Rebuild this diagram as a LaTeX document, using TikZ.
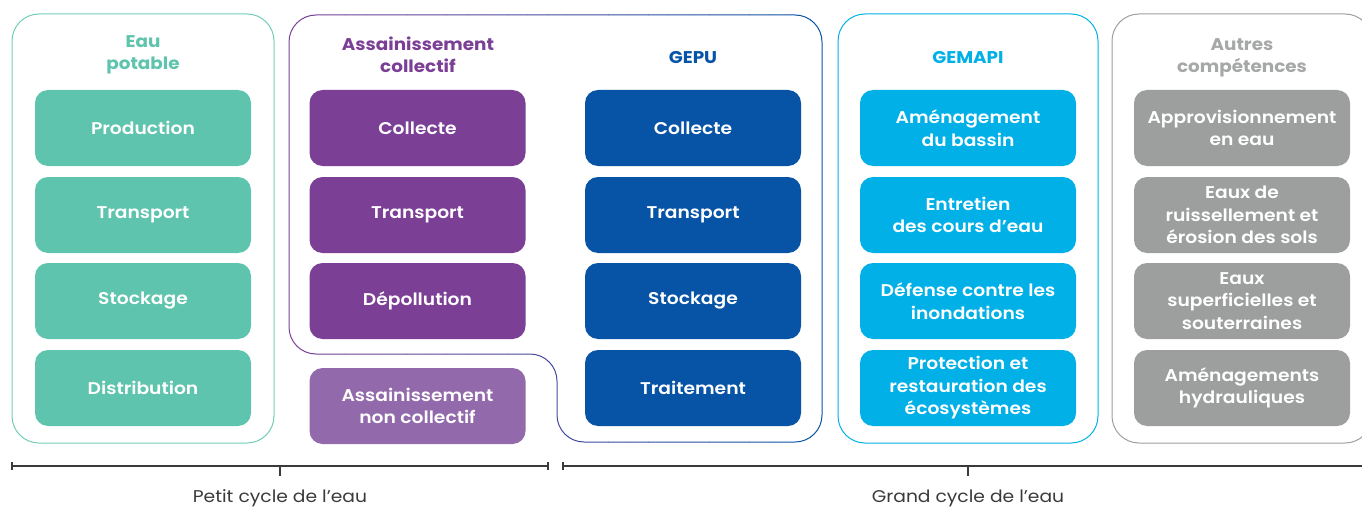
\documentclass[tikz,border=0pt]{standalone}
\usepackage{fontspec}
\setmainfont{Poppins}[FakeStretch=1.1, BoldFont={Poppins SemiBold}, BoldFeatures={FakeStretch=1.1}]
\newfontfamily\titlefont{Poppins}[FakeStretch=1.08]
\definecolor{cgreen}{HTML}{5EC4AD}
\definecolor{cgreenline}{HTML}{72CCB8}
\definecolor{cpurple}{HTML}{7B3F96}
\definecolor{clpurple}{HTML}{926AAC}
\definecolor{cblue}{HTML}{0753A5}
\definecolor{ccyan}{HTML}{00B0E6}
\definecolor{cgray}{HTML}{9D9E9E}
\definecolor{cgrayt}{HTML}{A6A7A7}
\definecolor{cdark}{HTML}{3A3A3A}
\tikzset{
  box/.style={minimum width=216pt, minimum height=76pt, rounded corners=13pt, text=white, align=center,
    font=\fontsize{17}{22.5}\selectfont\bfseries, inner sep=0pt},
  frame/.style={draw, line width=1pt, rounded corners=27pt, minimum width=262pt, minimum height=429pt, inner sep=0pt},
  title/.style={align=center, font=\fontsize{17}{22}\selectfont\titlefont\bfseries},
  scaleline/.style={draw=cdark, line width=1.1pt},
  caption/.style={text=cdark, font=\fontsize{17}{20}\selectfont}
}
\begin{document}
\begin{tikzpicture}[x=1pt, y=-1pt]
\useasboundingbox (0,0) rectangle (1362,508);
% frames
\node[frame, draw=cgreenline] (fep) at (143,228.5) {};
\node[frame, draw=ccyan, minimum width=260pt] (fgm) at (968,228.5) {};
\node[frame, draw=cgray, minimum width=260pt] (fau) at (1242,228.5) {};
% combined frame with purple-to-blue gradient stroke
\foreach \i in {0,...,26}{
  \pgfmathtruncatemacro{\p}{100-\i*100/26}
  \begin{scope}
    \clip (285+\i*20.2,5) rectangle (285+\i*20.2+20.4,450);
    \draw[cpurple!\p!cblue, line width=1pt, rounded corners=27pt]
      (420,15) -- (822,15) -- (822,442) -- (557,442) -- (557,354) -- (289,354) -- (289,15) -- cycle;
  \end{scope}
}
% titles
\node[title, text=cgreen] (tep) at (143,55) {Eau\\potable};
\node[title, text=cpurple] (tac) at (418,55) {Assainissement\\collectif};
\node[title, text=cblue] (tgepu) at (693,58) {GEPU};
\node[title, text=ccyan] (tgm) at (968,58) {GEMAPI};
\node[title, text=cgrayt] (tau) at (1242,58) {Autres\\compétences};
% eau potable
\node[box, fill=cgreen] (ep1) at (143,128) {Production};
\node[box, fill=cgreen] (ep2) at (143,215) {Transport};
\node[box, fill=cgreen] (ep3) at (143,301) {Stockage};
\node[box, fill=cgreen] (ep4) at (143,388) {Distribution};
% assainissement
\node[box, fill=cpurple] (ac1) at (417.5,128) {Collecte};
\node[box, fill=cpurple] (ac2) at (417.5,215) {Transport};
\node[box, fill=cpurple] (ac3) at (417.5,301) {Dépollution};
\node[box, fill=clpurple] (anc) at (417.5,406) {Assainissement\\non collectif};
% GEPU
\node[box, fill=cblue] (gp1) at (693,128) {Collecte};
\node[box, fill=cblue] (gp2) at (693,215) {Transport};
\node[box, fill=cblue] (gp3) at (693,301) {Stockage};
\node[box, fill=cblue] (gp4) at (693,388) {Traitement};
% GEMAPI
\node[box, fill=ccyan] (gm1) at (968,128) {Aménagement\\du bassin};
\node[box, fill=ccyan] (gm2) at (968,215) {Entretien\\des cours d’eau};
\node[box, fill=ccyan] (gm3) at (968,301) {Défense contre les\\inondations};
\node[box, fill=ccyan] (gm4) at (968,388) {Protection et\\restauration des\\écosystèmes};
% Autres
\node[box, fill=cgray] (au1) at (1242,128) {Approvisionnement\\en eau};
\node[box, fill=cgray] (au2) at (1242,215) {Eaux de\\ruissellement et\\érosion des sols};
\node[box, fill=cgray] (au3) at (1242,301) {Eaux\\superficielles et\\souterraines};
\node[box, fill=cgray] (au4) at (1242,388) {Aménagements\\hydrauliques};
% scales
\coordinate (pa) at (12,466);
\coordinate (pb) at (548,466);
\coordinate (pm) at (280,466);
\coordinate (ga) at (563,466);
\coordinate (gb) at (1370,466);
\coordinate (gm) at (968,466);
\draw[scaleline] (pa) -- (pb);
\draw[scaleline] ([yshift=-4pt]pa) -- ([yshift=4pt]pa);
\draw[scaleline] ([yshift=-4pt]pb) -- ([yshift=4pt]pb);
\draw[scaleline] (pm) -- ([yshift=-10pt]pm);
\draw[scaleline] (ga) -- (gb);
\draw[scaleline] ([yshift=-4pt]ga) -- ([yshift=4pt]ga);
\draw[scaleline] (gm) -- ([yshift=-10pt]gm);
\node[caption] (cp) at (280,498) {Petit cycle de l’eau};
\node[caption] (cg) at (968,498) {Grand cycle de l’eau};
\end{tikzpicture}
\end{document}
